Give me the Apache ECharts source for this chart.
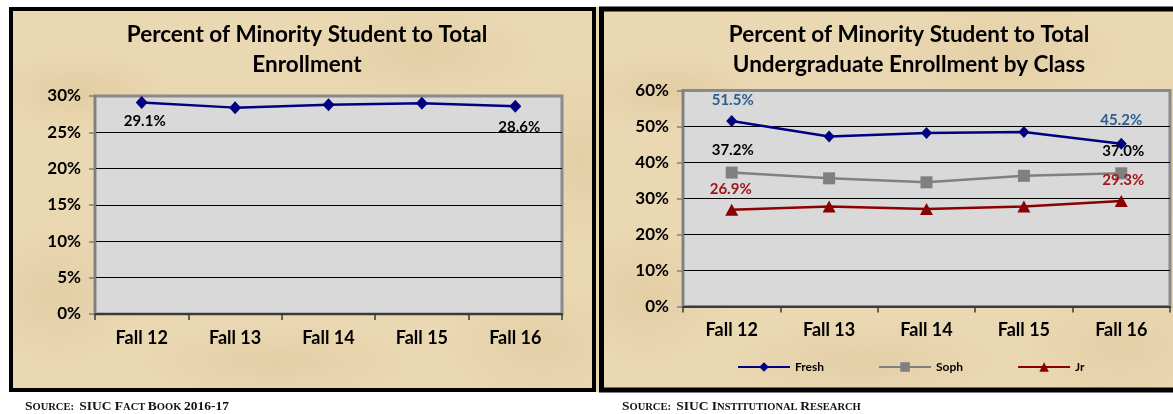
<!DOCTYPE html>
<html>
<head>
<meta charset="utf-8">
<script src="https://cdn.jsdelivr.net/npm/echarts@6/dist/echarts.min.js"></script>
<style>
html,body{margin:0;padding:0;background:#fff;}
#wrap{position:relative;width:1173px;height:414px;overflow:hidden;background:#fff;}
.parch{position:absolute;background-color:#EAD8B2;
background-image:
 radial-gradient(ellipse 90px 40px at 12% 22%, rgba(195,158,105,0.20), rgba(195,158,105,0) 100%),
 radial-gradient(ellipse 120px 50px at 70% 12%, rgba(195,158,105,0.16), rgba(195,158,105,0) 100%),
 radial-gradient(ellipse 80px 70px at 8% 75%, rgba(195,158,105,0.18), rgba(195,158,105,0) 100%),
 radial-gradient(ellipse 140px 40px at 45% 92%, rgba(195,158,105,0.16), rgba(195,158,105,0) 100%),
 radial-gradient(ellipse 100px 60px at 90% 88%, rgba(195,158,105,0.15), rgba(195,158,105,0) 100%),
 radial-gradient(ellipse 60px 90px at 97% 40%, rgba(195,158,105,0.16), rgba(195,158,105,0) 100%);}
#chart{position:absolute;left:0;top:0;width:1173px;height:414px;}
</style>
</head>
<body>
<div id="wrap">
  <div class="parch" style="left:9px;top:7px;width:592px;height:385px;"></div>
  <div class="parch" style="left:600px;top:7px;width:580px;height:385px;"></div>
  <div id="chart"></div>
</div>
<script>
// ---- data ----
const categories = ['Fall 12', 'Fall 13', 'Fall 14', 'Fall 15', 'Fall 16'];
const totalPct = [29.1, 28.4, 28.8, 29.0, 28.6];
const freshPct = [51.5, 47.2, 48.2, 48.5, 45.2];
const sophPct  = [37.2, 35.6, 34.5, 36.3, 37.0];
const jrPct    = [26.9, 27.8, 27.1, 27.8, 29.3];
const seriesNames = ['Fresh', 'Soph', 'Jr'];
const leftTitle = 'Percent of Minority Student to Total\nEnrollment';
const rightTitle = 'Percent of Minority Student to Total\nUndergraduate Enrollment by Class';

const chart = echarts.init(document.getElementById('chart'), null, {renderer: 'canvas'});

const FONT = 'Lato';
const pctFmt = p => p.value.toFixed(1) + '%';

function labeled(arr, color, pos, dist, offFirst, offLast) {
  return arr.map((v, i) => {
    if (i === 0 || i === arr.length - 1) {
      return {value: v, label: {show: true, position: pos, distance: dist, color: color,
        offset: i === 0 ? offFirst : offLast,
        fontFamily: FONT, fontWeight: 'bold', fontSize: 15, formatter: pctFmt}};
    }
    return {value: v};
  });
}

function yAxis(gridIndex, max, interval) {
  const n = max / interval + 1;
  const colors = [];
  for (let i = 0; i < n; i++) colors.push(i === n - 1 ? '#8a8a8a' : '#000000');
  return {
    type: 'value', gridIndex: gridIndex, min: 0, max: max, interval: interval,
    axisLine: {show: true, lineStyle: {color: '#7f7f7f', width: 2}},
    axisTick: {show: true, length: 6, lineStyle: {color: '#7f7f7f', width: 1.5}},
    axisLabel: {formatter: '{value}%', margin: 14, color: '#000', fontFamily: FONT, fontWeight: 'bold', fontSize: 17},
    splitLine: {show: true, lineStyle: {color: colors, width: 1.2}}
  };
}

function xAxis(gridIndex) {
  return {
    type: 'category', gridIndex: gridIndex, data: categories, boundaryGap: true,
    axisLine: {show: true, lineStyle: {color: '#3a3a3a', width: 2}},
    axisTick: {show: true, length: 6, interval: 0, lineStyle: {color: '#3a3a3a', width: 1.5}},
    axisLabel: {margin: 15, color: '#000', fontFamily: FONT, fontWeight: 'bold', fontSize: 18, interval: 0}
  };
}

const titleStyle = {fontFamily: FONT, fontWeight: 'bold', fontSize: 22.5, lineHeight: 30, color: '#000'};

const option = {
  animation: false,
  backgroundColor: 'transparent',
  title: [
    {text: leftTitle, left: 302, top: 15, textAlign: 'center', textStyle: titleStyle},
    {text: rightTitle, left: 904, top: 15, textAlign: 'center', textStyle: titleStyle}
  ],
  legend: {
    data: seriesNames, left: 732, top: 356, itemWidth: 52, itemHeight: 12, itemGap: 54,
    textStyle: {fontFamily: FONT, fontWeight: 'bold', fontSize: 12, color: '#000'}
  },
  grid: [
    {left: 95, top: 96, width: 467, height: 218, show: true, backgroundColor: '#D9D9D9', borderColor: '#8a8a8a', borderWidth: 3, containLabel: false},
    {left: 683, top: 90.5, width: 487, height: 216, show: true, backgroundColor: '#D9D9D9', borderColor: '#8a8a8a', borderWidth: 3, containLabel: false}
  ],
  xAxis: [xAxis(0), xAxis(1)],
  yAxis: [yAxis(0, 30, 5), yAxis(1, 60, 10)],
  series: [
    {name: 'Total', type: 'line', xAxisIndex: 0, yAxisIndex: 0,
     data: labeled(totalPct, '#000', 'bottom', 5, [3, 0], [4, 2]),
     symbol: 'diamond', symbolSize: [12, 13],
     lineStyle: {color: '#000080', width: 2.5}, itemStyle: {color: '#000080'}},
    {name: 'Fresh', type: 'line', xAxisIndex: 1, yAxisIndex: 1,
     data: labeled(freshPct, '#2F5E8E', 'top', 7, [1, 0], [0, -3]),
     symbol: 'diamond', symbolSize: [11, 12],
     lineStyle: {color: '#000080', width: 2.5}, itemStyle: {color: '#000080'}},
    {name: 'Soph', type: 'line', xAxisIndex: 1, yAxisIndex: 1,
     data: labeled(sophPct, '#000', 'top', 9, [1, 0], [2, 0]),
     symbol: 'rect', symbolSize: 12,
     lineStyle: {color: '#808080', width: 2.5}, itemStyle: {color: '#808080'}},
    {name: 'Jr', type: 'line', xAxisIndex: 1, yAxisIndex: 1,
     data: labeled(jrPct, '#A3141C', 'top', 7, [-1, 0], [2, 0]),
     symbol: 'triangle', symbolSize: [13, 12],
     lineStyle: {color: '#8B0000', width: 2.5}, itemStyle: {color: '#8B0000'}}
  ],
  graphic: [
    {type: 'rect', shape: {x: 11, y: 9, width: 583, height: 381}, style: {fill: 'none', stroke: '#000', lineWidth: 4}, silent: true, z: 100},
    {type: 'rect', shape: {x: 601.5, y: 9, width: 600, height: 381}, style: {fill: 'none', stroke: '#000', lineWidth: 5}, silent: true, z: 100},
    {type: 'text', x: 25, y: 407, style: {
      text: '{a|S}{b|OURCE:  }{a|SIUC F}{b|ACT }{a|B}{b|OOK }{a|2016-17}',
      verticalAlign: 'middle', textAlign: 'left',
      rich: {a: {fontFamily: 'Liberation Serif', fontWeight: 'bold', fontSize: 13.5, fill: '#111'},
             b: {fontFamily: 'Liberation Serif', fontWeight: 'bold', fontSize: 10.5, fill: '#111'}}}},
    {type: 'text', x: 622, y: 407, style: {
      text: '{a|S}{b|OURCE:  }{a|SIUC I}{b|NSTITUTIONAL }{a|R}{b|ESEARCH}',
      verticalAlign: 'middle', textAlign: 'left',
      rich: {a: {fontFamily: 'Liberation Serif', fontWeight: 'bold', fontSize: 13.5, fill: '#111'},
             b: {fontFamily: 'Liberation Serif', fontWeight: 'bold', fontSize: 10.5, fill: '#111'}}}}
  ]
};
chart.setOption(option);
</script>
</body>
</html>
